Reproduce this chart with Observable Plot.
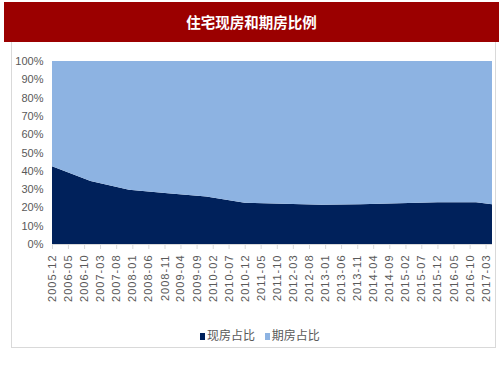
<!DOCTYPE html>
<html>
<head>
<meta charset="utf-8">
<script src="https://cdn.jsdelivr.net/npm/d3@7"></script>
<script src="https://cdn.jsdelivr.net/npm/@observablehq/plot@0.6"></script>
<style>
  html, body { margin: 0; padding: 0; background: #fff; }
  #wrap { position: relative; width: 503px; height: 378px; overflow: hidden; }
  #title { position: absolute; left: 4px; top: 2px; width: 495px; height: 40px; background: #9B0000;
           color: #fff; font: bold 14.5px "Noto Sans CJK SC", sans-serif; text-align: center; line-height: 40px; }
  #box { position: absolute; left: 11px; top: 42px; width: 483px; height: 305px; border: 1px solid #d9d9d9; border-top: none; }
  #chart { position: absolute; left: 0; top: 0; }
  #legend { position: absolute; top: 326px; left: 200px; font: 12px "Noto Sans CJK SC", sans-serif; color: #595959; white-space: nowrap; }
  #legend span.sw { display: inline-block; width: 5px; height: 7px; margin-right: 2px; vertical-align: 0px; }
  #chart svg text.xl { letter-spacing: 1px; }
</style>
</head>
<body>
<div id="wrap">
  <div id="box"></div>
  <div id="chart"></div>
  <div id="title">住宅现房和期房比例</div>
  <div id="legend"><span class="sw" style="background:#00215B"></span>现房占比 <span class="sw" style="background:#8DB3E2;margin-left:7px"></span>期房占比</div>
</div>
<script>
const dates = ["2005-12","2006-12","2007-12","2008-12","2009-12","2010-12","2011-12","2012-12","2013-12","2014-12","2015-12","2016-12","2017-05"];
const xianfang = [42.5, 34.4, 29.6, 27.8, 26.0, 22.5, 22.0, 21.5, 21.7, 22.3, 22.8, 22.8, 21.7];
const qifang   = [57.5, 65.6, 70.4, 72.2, 74.0, 77.5, 78.0, 78.5, 78.3, 77.7, 77.2, 77.2, 78.3];
const tickLabels = ["2005-12","2006-05","2006-10","2007-03","2007-08","2008-01","2008-06","2008-11","2009-04","2009-09","2010-02","2010-07","2010-12","2011-05","2011-10","2012-03","2012-08","2013-01","2013-06","2013-11","2014-04","2014-09","2015-02","2015-07","2015-12","2016-05","2016-10","2017-03"];
const yTicks = [0,10,20,30,40,50,60,70,80,90,100];

const parse = d3.utcParse("%Y-%m");
const data = [];
dates.forEach((d, i) => {
  data.push({date: parse(d), series: "现房占比", value: xianfang[i]});
  data.push({date: parse(d), series: "期房占比", value: qifang[i]});
});
const tickDates = tickLabels.map(parse);
const fmt = d3.utcFormat("%Y-%m");

const chart = Plot.plot({
  width: 503,
  height: 378,
  marginLeft: 52,
  marginRight: 11,
  marginTop: 61,
  marginBottom: 134,
  style: {fontFamily: "'Liberation Sans', Arial, sans-serif", color: "#595959", background: "transparent"},
  x: {type: "utc", domain: [parse(dates[0]), parse(dates[dates.length - 1])], label: null},
  y: {domain: [0, 100], label: null},
  color: {domain: ["现房占比", "期房占比"], range: ["#00215B", "#8DB3E2"]},
  marks: [
    Plot.areaY(data, {x: "date", y: "value", fill: "series", order: ["现房占比", "期房占比"], curve: "linear"}),
    Plot.ruleY([0], {stroke: "#d9d9d9"}),
    Plot.axisY({ticks: yTicks, tickSize: 0, tickPadding: 9, tickFormat: d => d + "%", fontSize: 11, label: null, fill: "#595959"}),
    Plot.axisX({ticks: tickDates, tickSize: 5, tickPadding: 5, tickRotate: -90, tickFormat: fmt, fontSize: 11, stroke: "#d9d9d9", fill: "#595959", label: null})
  ]
});
document.getElementById("chart").appendChild(chart);
chart.querySelectorAll("text").forEach(t => {
  if (tickLabels.includes(t.textContent)) t.classList.add("xl");
});
</script>
</body>
</html>
